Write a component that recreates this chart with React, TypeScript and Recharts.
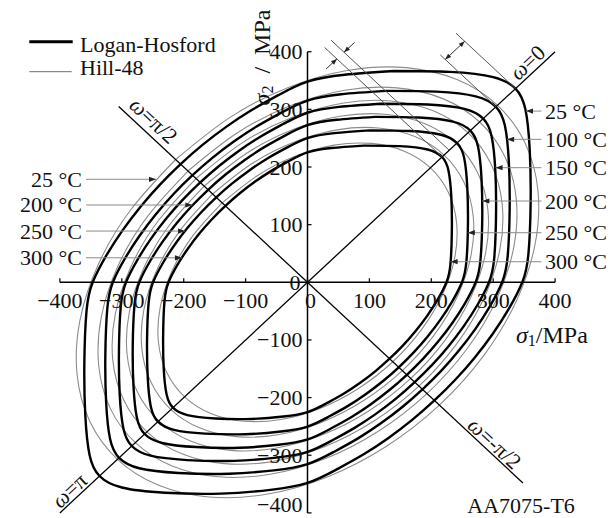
import React from 'react';
import {
  ComposedChart,
  Line,
  XAxis,
  YAxis,
  ReferenceLine,
  ReferenceDot,
  Legend,
} from 'recharts';

const FONT = "'Liberation Serif', 'Times New Roman', Times, serif";
const FS = 22;
const TITLE_FS = 24;

// ---- yield loci, [σ1, σ2] in MPa, traced counter-clockwise ----
// Logan-Hosford
const lh25 = [[140,366.5],[60,360],[0,348],[-46.6,324.9],[-90.1,298.8],[-130.8,270],[-169.1,238.7],[-205,205],[-238.7,169.1],[-270,130.8],[-298.8,90.1],[-324.9,46.6],[-347,0],[-357,-50],[-360.5,-140],[-359,-230],[-352,-300],[-336,-336],[-300,-356],[-230,-365],[-140,-366.5],[-60,-360],[0,-348],[46.6,-324.9],[90.1,-298.8],[130.8,-270],[169.1,-238.7],[205,-205],[238.7,-169.1],[270,-130.8],[298.8,-90.1],[324.9,-46.6],[347,0],[357,50],[360.5,140],[359,230],[352,300],[336,336],[300,356],[230,365],[140,366.5]];
const lh100 = [[126.8,332],[54.4,326.2],[0,315.3],[-42.2,294.4],[-81.6,270.7],[-118.5,244.6],[-153.2,216.3],[-185.7,185.7],[-216.3,153.2],[-244.6,118.5],[-270.7,81.6],[-294.4,42.2],[-314.4,0],[-323.4,-45.3],[-326.6,-126.8],[-325.3,-208.4],[-318.9,-271.8],[-304.4,-304.4],[-271.8,-322.5],[-208.4,-330.7],[-126.8,-332],[-54.4,-326.2],[0,-315.3],[42.2,-294.4],[81.6,-270.7],[118.5,-244.6],[153.2,-216.3],[185.7,-185.7],[216.3,-153.2],[244.6,-118.5],[270.7,-81.6],[294.4,-42.2],[314.4,0],[323.4,45.3],[326.6,126.8],[325.3,208.4],[318.9,271.8],[304.4,304.4],[271.8,322.5],[208.4,330.7],[126.8,332]];
const lh150 = [[118.3,309.7],[50.7,304.2],[0,294.1],[-39.4,274.5],[-76.1,252.5],[-110.5,228.2],[-142.9,201.7],[-173.2,173.2],[-201.7,142.9],[-228.2,110.5],[-252.5,76.1],[-274.5,39.4],[-293.2,0],[-301.7,-42.3],[-304.6,-118.3],[-303.4,-194.4],[-297.4,-253.5],[-283.9,-283.9],[-253.5,-300.8],[-194.4,-308.4],[-118.3,-309.7],[-50.7,-304.2],[0,-294.1],[39.4,-274.5],[76.1,-252.5],[110.5,-228.2],[142.9,-201.7],[173.2,-173.2],[201.7,-142.9],[228.2,-110.5],[252.5,-76.1],[274.5,-39.4],[293.2,0],[301.7,42.3],[304.6,118.3],[303.4,194.4],[297.4,253.5],[283.9,283.9],[253.5,300.8],[194.4,308.4],[118.3,309.7]];
const lh200 = [[109.6,287],[47,281.9],[0,272.5],[-36.5,254.4],[-70.5,234],[-102.4,211.4],[-132.4,186.9],[-160.5,160.5],[-186.9,132.4],[-211.4,102.4],[-234,70.5],[-254.4,36.5],[-271.7,0],[-279.5,-39.2],[-282.3,-109.6],[-281.1,-180.1],[-275.6,-234.9],[-263.1,-263.1],[-234.9,-278.7],[-180.1,-285.8],[-109.6,-287],[-47,-281.9],[0,-272.5],[36.5,-254.4],[70.5,-234],[102.4,-211.4],[132.4,-186.9],[160.5,-160.5],[186.9,-132.4],[211.4,-102.4],[234,-70.5],[254.4,-36.5],[271.7,0],[279.5,39.2],[282.3,109.6],[281.1,180.1],[275.6,234.9],[263.1,263.1],[234.9,278.7],[180.1,285.8],[109.6,287]];
const lh250 = [[100.7,263.5],[43.1,258.8],[0,250.2],[-33.5,233.6],[-64.8,214.8],[-94,194.1],[-121.6,171.6],[-147.4,147.4],[-171.6,121.6],[-194.1,94],[-214.8,64.8],[-233.6,33.5],[-249.5,0],[-256.7,-36],[-259.2,-100.7],[-258.1,-165.4],[-253.1,-215.7],[-241.6,-241.6],[-215.7,-256],[-165.4,-262.4],[-100.7,-263.5],[-43.1,-258.8],[0,-250.2],[33.5,-233.6],[64.8,-214.8],[94,-194.1],[121.6,-171.6],[147.4,-147.4],[171.6,-121.6],[194.1,-94],[214.8,-64.8],[233.6,-33.5],[249.5,0],[256.7,36],[259.2,100.7],[258.1,165.4],[253.1,215.7],[241.6,241.6],[215.7,256],[165.4,262.4],[100.7,263.5]];
const lh300 = [[90.6,237.1],[38.8,232.9],[0,225.2],[-30.2,210.2],[-58.3,193.3],[-84.6,174.7],[-109.4,154.4],[-132.6,132.6],[-154.4,109.4],[-174.7,84.6],[-193.3,58.3],[-210.2,30.2],[-224.5,0],[-231,-32.4],[-233.2,-90.6],[-232.3,-148.8],[-227.7,-194.1],[-217.4,-217.4],[-194.1,-230.3],[-148.8,-236.2],[-90.6,-237.1],[-38.8,-232.9],[0,-225.2],[30.2,-210.2],[58.3,-193.3],[84.6,-174.7],[109.4,-154.4],[132.6,-132.6],[154.4,-109.4],[174.7,-84.6],[193.3,-58.3],[210.2,-30.2],[224.5,0],[231,32.4],[233.2,90.6],[232.3,148.8],[227.7,194.1],[217.4,217.4],[194.1,230.3],[148.8,236.2],[90.6,237.1]];

// Hill-48
const hill25 = [[-213,213],[-285.2,126.3],[-338,31],[-367.7,-66.4],[-372.3,-159.3],[-351.6,-241.4],[-307,-307],[-241.4,-351.6],[-159.3,-372.3],[-66.4,-367.7],[31,-338],[126.3,-285.2],[213,-213],[285.2,-126.3],[338,-31],[367.7,66.4],[372.3,159.3],[351.6,241.4],[307,307],[241.4,351.6],[159.3,372.3],[66.4,367.7],[-31,338],[-126.3,285.2],[-213,213]];
const hill100 = [[-193,193],[-258.4,114.4],[-306.2,28.1],[-333.1,-60.2],[-337.3,-144.3],[-318.6,-218.7],[-278.1,-278.1],[-218.7,-318.6],[-144.3,-337.3],[-60.2,-333.1],[28.1,-306.2],[114.4,-258.4],[193,-193],[258.4,-114.4],[306.2,-28.1],[333.1,60.2],[337.3,144.3],[318.6,218.7],[278.1,278.1],[218.7,318.6],[144.3,337.3],[60.2,333.1],[-28.1,306.2],[-114.4,258.4],[-193,193]];
const hill150 = [[-180,180],[-241,106.7],[-285.6,26.2],[-310.7,-56.1],[-314.6,-134.6],[-297.1,-203.9],[-259.4,-259.4],[-203.9,-297.1],[-134.6,-314.6],[-56.1,-310.7],[26.2,-285.6],[106.7,-241],[180,-180],[241,-106.7],[285.6,-26.2],[310.7,56.1],[314.6,134.6],[297.1,203.9],[259.4,259.4],[203.9,297.1],[134.6,314.6],[56.1,310.7],[-26.2,285.6],[-106.7,241],[-180,180]];
const hill200 = [[-166.8,166.8],[-223.3,98.9],[-264.6,24.3],[-287.9,-52],[-291.5,-124.7],[-275.3,-189],[-240.3,-240.3],[-189,-275.3],[-124.7,-291.5],[-52,-287.9],[24.3,-264.6],[98.9,-223.3],[166.8,-166.8],[223.3,-98.9],[264.6,-24.3],[287.9,52],[291.5,124.7],[275.3,189],[240.3,240.3],[189,275.3],[124.7,291.5],[52,287.9],[-24.3,264.6],[-98.9,223.3],[-166.8,166.8]];
const hill250 = [[-153.2,153.2],[-205.1,90.8],[-243,22.3],[-264.4,-47.8],[-267.7,-114.6],[-252.8,-173.5],[-220.7,-220.7],[-173.5,-252.8],[-114.6,-267.7],[-47.8,-264.4],[22.3,-243],[90.8,-205.1],[153.2,-153.2],[205.1,-90.8],[243,-22.3],[264.4,47.8],[267.7,114.6],[252.8,173.5],[220.7,220.7],[173.5,252.8],[114.6,267.7],[47.8,264.4],[-22.3,243],[-90.8,205.1],[-153.2,153.2]];
const hill300 = [[-137.8,137.8],[-184.5,81.7],[-218.7,20],[-237.9,-43],[-240.9,-103.1],[-227.5,-156.2],[-198.6,-198.6],[-156.2,-227.5],[-103.1,-240.9],[-43,-237.9],[20,-218.7],[81.7,-184.5],[137.8,-137.8],[184.5,-81.7],[218.7,-20],[237.9,43],[240.9,103.1],[227.5,156.2],[198.6,198.6],[156.2,227.5],[103.1,240.9],[43,237.9],[-20,218.7],[-81.7,184.5],[-137.8,137.8]];

const temps = ['25 °C', '100 °C', '150 °C', '200 °C', '250 °C', '300 °C'];
const lhCurves = [lh25, lh100, lh150, lh200, lh250, lh300];
const hillCurves = [hill25, hill100, hill150, hill200, hill250, hill300];

// ---- axes ----
const axisTicks = [-400, -300, -200, -100, 0, 100, 200, 300, 400];
const tickText = (v: number) => (v < 0 ? `\u2212${-v}` : `${v}`);

// ---- ω directions ----
const omegaEqui = [[-400, -400], [400, 400]];
const omegaShear = [[-305, 305], [348, -348]];
const omegaLabels = [
  { at: [354.6, 382.1], text: '0', angle: -43 },
  { at: [-248, 281.5], text: 'π/2', angle: 43 },
  { at: [302.9, -278.6], text: '-π/2', angle: 43 },
  { at: [-385.3, -360.3], text: 'π', angle: -43 },
];

// ---- temperature call-outs: σ2 level, arrow tip σ1 ----
const leftTemps = ['25 °C', '200 °C', '250 °C', '300 °C'];
const leftLevels = [178.7, 134.1, 88.9, 42.5];
const leftTips = [-244.8, -186, -197.8, -202.8];
const leftStart = -357.8;
const rightLevels = [297, 248, 198.8, 141, 86, 35.7];
const rightTips = [353, 322.5, 303.8, 282.4, 259, 231.2];
const rightStart = 378;

// ---- tangents at ω = 0 and the gaps between them ----
const tangents = [
  [[27.5, 407.5], [217.5, 217.5]],
  [[38, 420], [229, 229]],
  [[214.5, 394.5], [304.5, 304.5]],
  [[240, 432], [336, 336]],
];
const gapArrows = [
  { from: [30, 370], to: [47.5, 387.5], both: false },
  { from: [76, 416], to: [59, 399], both: false },
  { from: [222.5, 386.5], to: [254, 418], both: true },
];

const toPoints = (arr: number[][]) => arr.map(([x, y]) => ({ x, y }));

const head = (x1: number, y1: number, x2: number, y2: number, len = 7, half = 2.6) => {
  const dx = x2 - x1;
  const dy = y2 - y1;
  const L = Math.hypot(dx, dy) || 1;
  const ux = dx / L;
  const uy = dy / L;
  const bx = x2 - ux * len;
  const by = y2 - uy * len;
  const px = -uy * half;
  const py = ux * half;
  return `${x2},${y2} ${bx + px},${by + py} ${bx - px},${by - py}`;
};

const textStyle = { fontFamily: FONT, fontSize: FS, fill: '#111' };

const xTickShape = (v: number) => (p: any) => (
  <g>
    <line x1={p.x1} y1={p.y1} x2={p.x2} y2={p.y2} stroke="#111" strokeWidth={1.3} />
    <text
      x={p.x1 + (v === 0 ? 3 : 0)}
      y={p.y1 + 18}
      textAnchor="middle"
      dominantBaseline="central"
      {...textStyle}
    >
      {tickText(v)}
    </text>
  </g>
);

const yTickShape = (v: number) => (p: any) => (
  <g>
    <line x1={p.x1} y1={p.y1} x2={p.x2} y2={p.y2} stroke="#111" strokeWidth={1.3} />
    <text
      x={p.x1 - (v === 0 ? 7 : 5)}
      y={p.y1 - (v === -400 ? 8 : 0)}
      textAnchor="end"
      dominantBaseline="central"
      {...textStyle}
    >
      {tickText(v)}
    </text>
  </g>
);

const leaderShape = (label: string, side: 'left' | 'right') => (p: any) => (
  <g>
    <line x1={p.x1} y1={p.y1} x2={p.x2} y2={p.y2} stroke="#8a8a8a" strokeWidth={1} />
    <polygon points={head(p.x1, p.y1, p.x2, p.y2)} fill="#222" />
    <text
      x={side === 'left' ? p.x1 - 4 : p.x1 + 3.5}
      y={p.y1}
      textAnchor={side === 'left' ? 'end' : 'start'}
      dominantBaseline="central"
      {...textStyle}
    >
      {label}
    </text>
  </g>
);

const arrowShape = (both: boolean) => (p: any) => (
  <g>
    <line x1={p.x1} y1={p.y1} x2={p.x2} y2={p.y2} stroke="#333" strokeWidth={1} />
    <polygon points={head(p.x1, p.y1, p.x2, p.y2, 6, 2.3)} fill="#222" />
    {both && <polygon points={head(p.x2, p.y2, p.x1, p.y1, 6, 2.3)} fill="#222" />}
  </g>
);

const omegaShape = (text: string, angle: number) => (p: any) => (
  <text
    x={p.cx}
    y={p.cy}
    textAnchor="middle"
    dominantBaseline="central"
    transform={`rotate(${angle} ${p.cx} ${p.cy})`}
    {...textStyle}
  >
    <tspan fontStyle="italic">ω</tspan>
    <tspan>=</tspan>
    <tspan>{text}</tspan>
  </text>
);

const sigma1Shape = (p: any) => (
  <text x={p.cx} y={p.cy} textAnchor="start" dominantBaseline="central" {...textStyle} fontSize={TITLE_FS}>
    <tspan fontStyle="italic">σ</tspan>
    <tspan fontSize={16} dy={5}>1</tspan>
    <tspan dy={-5}>/MPa</tspan>
  </text>
);

const sigma2Shape = (p: any) => (
  <text
    x={p.cx}
    y={p.cy}
    textAnchor="middle"
    dominantBaseline="central"
    transform={`rotate(-90 ${p.cx} ${p.cy})`}
    {...textStyle}
    fontSize={TITLE_FS}
  >
    <tspan fontStyle="italic">σ</tspan>
    <tspan fontSize={16} dy={5}>2</tspan>
    <tspan dy={-5}>{'\u2002/\u2002MPa'}</tspan>
  </text>
);

const plainShape = (text: string) => (p: any) => (
  <text x={p.cx} y={p.cy} textAnchor="middle" dominantBaseline="central" {...textStyle}>
    {text}
  </text>
);

const legendContent = () => (
  <svg width={240} height={90} style={{ display: 'block' }}>
    <line x1={29.3} y1={41.7} x2={72.7} y2={41.7} stroke="#000" strokeWidth={3} />
    <text x={80} y={44} dominantBaseline="central" {...textStyle}>Logan-Hosford</text>
    <line x1={29.3} y1={71.7} x2={71.7} y2={71.7} stroke="#6e6e6e" strokeWidth={1} />
    <text x={80} y={67} dominantBaseline="central" {...textStyle}>Hill-48</text>
  </svg>
);

export default function App() {
  return (
    <div style={{ position: 'absolute', left: 0, top: 0, background: '#fff' }}>
      <ComposedChart
        width={611}
        height={518}
        margin={{ top: 51.7, right: 55.9, bottom: 5.1, left: 59.9 }}
      >
        <XAxis type="number" dataKey="x" domain={[-400, 400]} allowDataOverflow hide />
        <YAxis type="number" domain={[-400, 400]} allowDataOverflow hide />
        <Legend
          content={legendContent}
          layout="vertical"
          align="center"
          verticalAlign="middle"
          wrapperStyle={{ position: 'absolute', left: 0, top: 0, width: 240, height: 90 }}
        />

        {hillCurves.map((c, i) => (
          <Line
            key={`hill-${i}`}
            name={`Hill-48 ${temps[i]}`}
            data={toPoints(c)}
            dataKey="y"
            type="natural"
            stroke="#8c8c8c"
            strokeWidth={1.1}
            dot={false}
            activeDot={false}
            isAnimationActive={false}
          />
        ))}
        {lhCurves.map((c, i) => (
          <Line
            key={`lh-${i}`}
            name={`Logan-Hosford ${temps[i]}`}
            data={toPoints(c)}
            dataKey="y"
            type="natural"
            stroke="#000"
            strokeWidth={2.4}
            strokeLinejoin="round"
            dot={false}
            activeDot={false}
            isAnimationActive={false}
          />
        ))}

        {/* ω directions */}
        <ReferenceLine
          segment={omegaEqui.map(([x, y]) => ({ x, y }))}
          stroke="#000"
          strokeWidth={1.3}
          ifOverflow="visible"
        />
        <ReferenceLine
          segment={omegaShear.map(([x, y]) => ({ x, y }))}
          stroke="#000"
          strokeWidth={1.3}
          ifOverflow="visible"
        />

        {/* axes through the origin */}
        <ReferenceLine
          segment={[{ x: -400, y: 0 }, { x: 400, y: 0 }]}
          stroke="#000"
          strokeWidth={1.5}
          ifOverflow="visible"
        />
        <ReferenceLine
          segment={[{ x: 0, y: -400 }, { x: 0, y: 400 }]}
          stroke="#000"
          strokeWidth={1.5}
          ifOverflow="visible"
        />
        {axisTicks.map((v) => (
          <ReferenceLine
            key={`xt-${v}`}
            segment={[{ x: v, y: 0 }, { x: v, y: 7 }]}
            ifOverflow="visible"
            shape={xTickShape(v)}
          />
        ))}
        {axisTicks.map((v) => (
          <ReferenceLine
            key={`yt-${v}`}
            segment={[{ x: 0, y: v }, { x: 6.5, y: v }]}
            ifOverflow="visible"
            shape={yTickShape(v)}
          />
        ))}

        {/* tangents at ω = 0 */}
        {tangents.map((s, i) => (
          <ReferenceLine
            key={`tan-${i}`}
            segment={s.map(([x, y]) => ({ x, y }))}
            stroke="#555"
            strokeWidth={1}
            ifOverflow="visible"
          />
        ))}
        {gapArrows.map((a, i) => (
          <ReferenceLine
            key={`gap-${i}`}
            segment={[{ x: a.from[0], y: a.from[1] }, { x: a.to[0], y: a.to[1] }]}
            ifOverflow="visible"
            shape={arrowShape(a.both)}
          />
        ))}

        {/* temperature call-outs */}
        {leftTemps.map((t, i) => (
          <ReferenceLine
            key={`lt-${i}`}
            segment={[{ x: leftStart, y: leftLevels[i] }, { x: leftTips[i], y: leftLevels[i] }]}
            ifOverflow="visible"
            shape={leaderShape(t, 'left')}
          />
        ))}
        {temps.map((t, i) => (
          <ReferenceLine
            key={`rt-${i}`}
            segment={[{ x: rightStart, y: rightLevels[i] }, { x: rightTips[i], y: rightLevels[i] }]}
            ifOverflow="visible"
            shape={leaderShape(t, 'right')}
          />
        ))}

        {/* labels */}
        {omegaLabels.map((o, i) => (
          <ReferenceDot
            key={`om-${i}`}
            x={o.at[0]}
            y={o.at[1]}
            r={0}
            ifOverflow="visible"
            shape={omegaShape(o.text, o.angle)}
          />
        ))}
        <ReferenceDot x={336.8} y={-91.6} r={0} ifOverflow="visible" shape={sigma1Shape} />
        <ReferenceDot x={-73.5} y={390} r={0} ifOverflow="visible" shape={sigma2Shape} />
        <ReferenceDot x={345} y={-387.6} r={0} ifOverflow="visible" shape={plainShape('AA7075-T6')} />
      </ComposedChart>
    </div>
  );
}
